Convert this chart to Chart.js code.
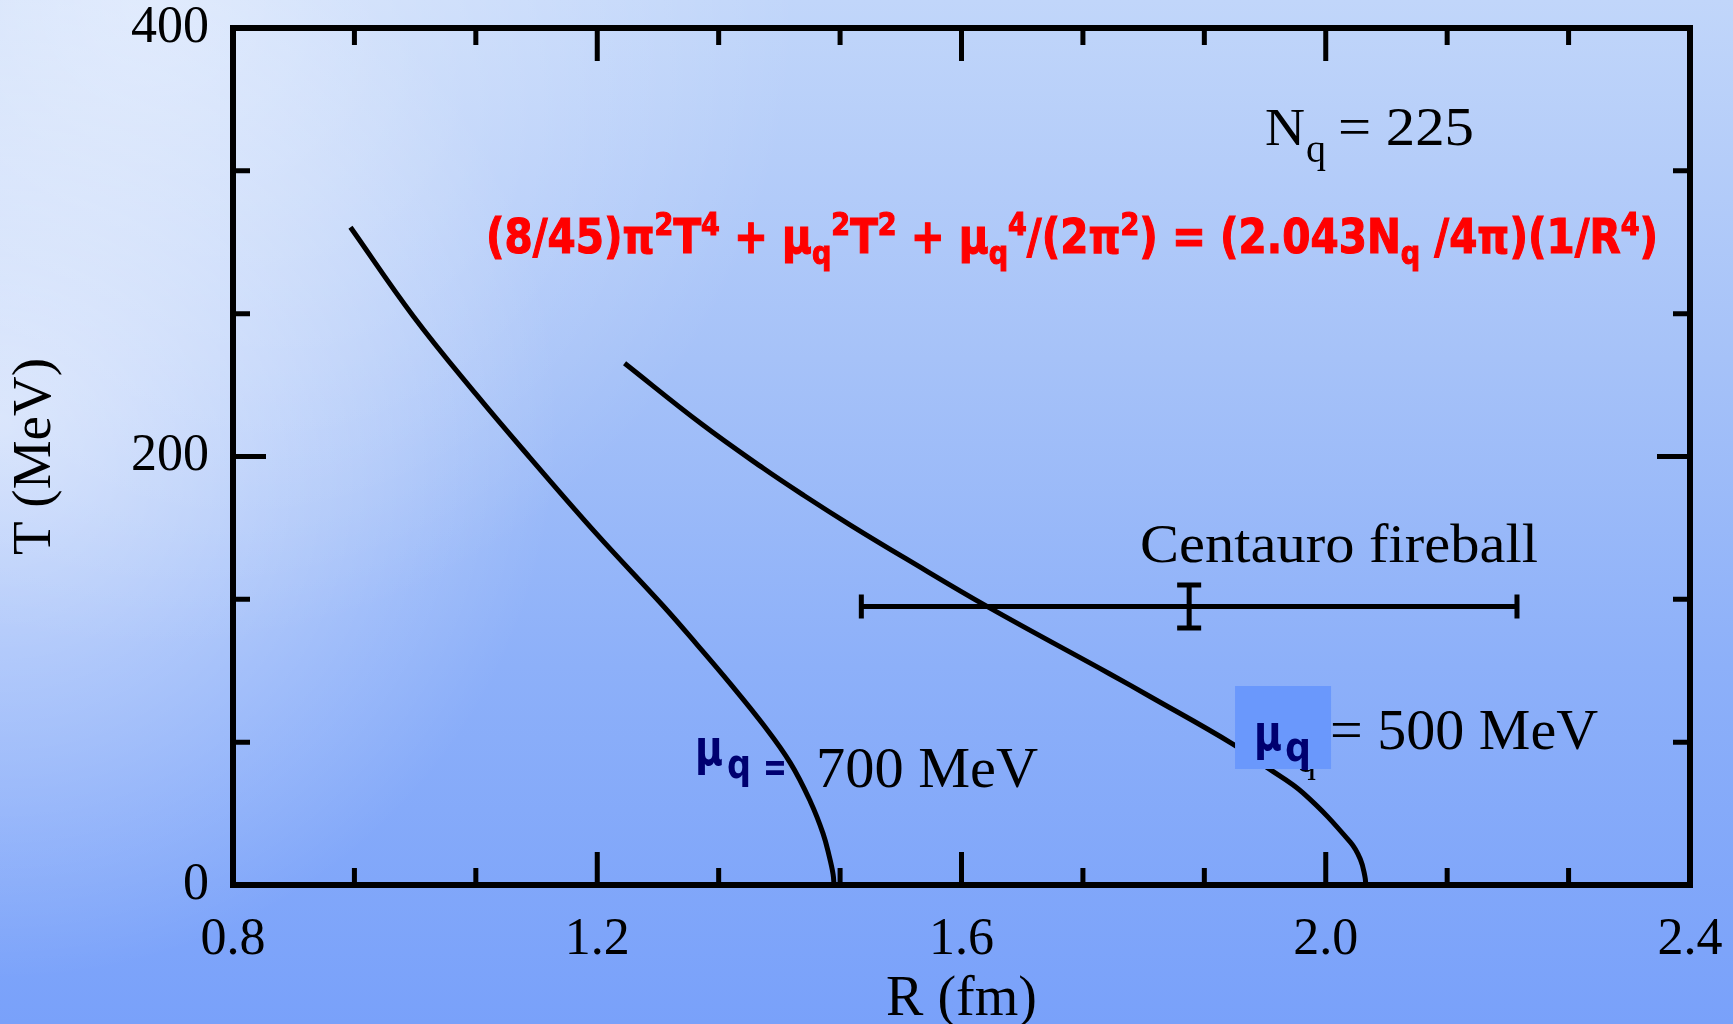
<!DOCTYPE html>
<html>
<head>
<meta charset="utf-8">
<script src="https://cdn.jsdelivr.net/npm/chart.js@4.4.1/dist/chart.umd.min.js"></script>
<style>
  html, body { margin: 0; padding: 0; overflow: hidden; }
  #wrap { width: 1733px; height: 1024px; }
</style>
</head>
<body>
<div id="wrap"><canvas id="c" width="1733" height="1024"></canvas></div>
<script>
// ---- data ----
// mu_q = 700 MeV curve
const mu700R = [0.929, 0.998, 1.068, 1.126, 1.199, 1.273, 1.310, 1.346, 1.382, 1.412, 1.434, 1.448, 1.455, 1.459, 1.460];
const mu700T = [307, 265.5, 228.5, 199.5, 164, 130, 112, 94, 75, 57, 39, 24, 13, 5, 0];
// mu_q = 500 MeV curve
const mu500R = [1.230, 1.315, 1.382, 1.427, 1.478, 1.539, 1.629, 1.763, 1.807, 1.898, 1.935, 1.975, 2.027, 2.038, 2.043, 2.044];
const mu500T = [243.5, 215, 194.6, 181.8, 168, 152.3, 129.8, 98.5, 88, 65.8, 55, 43, 20, 12, 4, 0];
// Centauro fireball estimate with error bars
const fireballR = [1.85];
const fireballT = [130];
const fireballRErr = [0.36];
const fireballTErr = [10];

// axes
const xMajor = [0.8, 1.2, 1.6, 2.0, 2.4];
const xTickLabels = ['0.8', '1.2', '1.6', '2.0', '2.4'];
const yMajor = [0, 200, 400];
const yTickLabels = ['0', '200', '400'];
const minorSplit = 3;

const SERIF = '"Liberation Serif", "Times New Roman", serif';
const SANS = '"DejaVu Sans", Verdana, sans-serif';

function withMinors(majors) {
    const out = [];
    for (let i = 0; i < majors.length; i++) {
        out.push({ value: majors[i], major: true });
        if (i < majors.length - 1) {
            const step = (majors[i + 1] - majors[i]) / minorSplit;
            for (let k = 1; k < minorSplit; k++) out.push({ value: majors[i] + k * step, major: false });
        }
    }
    return out;
}

function labelFor(v, majors, labels) {
    const i = majors.findIndex(m => Math.abs(m - v) < 1e-6);
    return i >= 0 ? labels[i] : '';
}

function toPts(xs, ys) { return xs.map((x, i) => ({ x, y: ys[i] })); }

// text helper: draw text squeezed/stretched to a given width
function fitText(ctx, txt, x, y, w) {
    const m = ctx.measureText(txt).width;
    ctx.save();
    ctx.translate(x, y);
    ctx.scale(w ? w / m : 1, 1);
    ctx.fillText(txt, 0, 0);
    ctx.restore();
}

// background: pale sky/sea gradient
const bgPlugin = {
    id: 'bg',
    beforeDraw(chart) {
        const { ctx, width, height } = chart;
        ctx.save();
        const g = ctx.createLinearGradient(0, 0, 0, height);
        g.addColorStop(0, '#c1d6fa');
        g.addColorStop(0.35, '#a6c2f8');
        g.addColorStop(0.65, '#8db0f9');
        g.addColorStop(1, '#79a1fa');
        ctx.fillStyle = g;
        ctx.fillRect(0, 0, width, height);
        let r = ctx.createRadialGradient(0, 420, 0, 0, 420, 560);
        r.addColorStop(0, 'rgba(255,255,255,0.55)');
        r.addColorStop(1, 'rgba(255,255,255,0)');
        ctx.fillStyle = r;
        ctx.fillRect(0, 0, width, height);
        r = ctx.createRadialGradient(150, 0, 0, 150, 0, 650);
        r.addColorStop(0, 'rgba(255,255,255,0.45)');
        r.addColorStop(1, 'rgba(255,255,255,0)');
        ctx.fillStyle = r;
        ctx.fillRect(0, 0, width, height);
        ctx.restore();
    }
};

// frame with inward ticks on all four sides
const framePlugin = {
    id: 'frame',
    afterDatasetsDraw(chart) {
        const { ctx, chartArea: a, scales: { x, y } } = chart;
        ctx.save();
        ctx.strokeStyle = '#000';
        ctx.lineWidth = 5;
        ctx.lineCap = 'butt';
        x.ticks.forEach(t => {
            const p = x.getPixelForValue(t.value);
            if (p <= a.left + 1 || p >= a.right - 1) return;
            const len = t.major ? 33 : 17;
            ctx.beginPath();
            ctx.moveTo(p, a.bottom); ctx.lineTo(p, a.bottom - len);
            ctx.moveTo(p, a.top); ctx.lineTo(p, a.top + len);
            ctx.stroke();
        });
        y.ticks.forEach(t => {
            const p = y.getPixelForValue(t.value);
            if (p <= a.top + 1 || p >= a.bottom - 1) return;
            const len = t.major ? 33 : 17;
            ctx.beginPath();
            ctx.moveTo(a.left, p); ctx.lineTo(a.left + len, p);
            ctx.moveTo(a.right, p); ctx.lineTo(a.right - len, p);
            ctx.stroke();
        });
        ctx.lineWidth = 6;
        ctx.lineJoin = 'miter';
        ctx.strokeRect(a.left, a.top, a.right - a.left, a.bottom - a.top);
        ctx.restore();
    }
};

// error bars for the fireball point
const errPlugin = {
    id: 'errbars',
    afterDatasetsDraw(chart) {
        const { ctx, scales: { x, y } } = chart;
        ctx.save();
        ctx.strokeStyle = '#000';
        ctx.lineWidth = 5;
        fireballR.forEach((r, i) => {
            const px = x.getPixelForValue(r), py = y.getPixelForValue(fireballT[i]);
            const x0 = x.getPixelForValue(r - fireballRErr[i]), x1 = x.getPixelForValue(r + fireballRErr[i]);
            const y0 = y.getPixelForValue(fireballT[i] - fireballTErr[i]), y1 = y.getPixelForValue(fireballT[i] + fireballTErr[i]);
            ctx.beginPath();
            ctx.moveTo(x0, py); ctx.lineTo(x1, py);
            ctx.moveTo(x0, py - 12); ctx.lineTo(x0, py + 12);
            ctx.moveTo(x1, py - 12); ctx.lineTo(x1, py + 12);
            ctx.moveTo(px, y0); ctx.lineTo(px, y1);
            ctx.moveTo(px - 12, y0); ctx.lineTo(px + 12, y0);
            ctx.moveTo(px - 12, y1); ctx.lineTo(px + 12, y1);
            ctx.stroke();
        });
        ctx.restore();
    }
};

// annotations, anchored in data space
const labelPlugin = {
    id: 'labels',
    afterDatasetsDraw(chart) {
        const { ctx, scales: { x, y } } = chart;
        const at = (r, t) => [x.getPixelForValue(r), y.getPixelForValue(t)];
        ctx.save();
        ctx.textBaseline = 'alphabetic';
        ctx.textAlign = 'left';
        ctx.fillStyle = '#000';

        // N_q = 225
        let [ax, ay] = at(1.9333, 345.4);
        ctx.font = '52px ' + SERIF;
        fitText(ctx, 'N', ax, ay, 40);
        ctx.font = '40px ' + SERIF;
        fitText(ctx, 'q', ax + 41, ay + 17, 0);
        ctx.font = '54px ' + SERIF;
        fitText(ctx, '= 225', ax + 73, ay, 136);

        // red equation
        [ax, ay] = at(1.0778, 295.0);
        const [ex] = at(2.365, 295.0);
        const segs = [
            ['(8/45)π', 'n'], ['2', 'sup'], ['T', 'n'], ['4', 'sup'], [' + μ', 'n'], ['q', 'sub'], ['2', 'sup'],
            ['T', 'n'], ['2', 'sup'], [' + μ', 'n'], ['q', 'sub'], ['4', 'sup'], ['/(2π', 'n'], ['2', 'sup'],
            [') = (2.043N', 'n'], ['q', 'sub'], [' /4π)(1/R', 'n'], ['4', 'sup'], [')', 'n']
        ];
        const fnt = k => k === 'n' ? 'bold 48px ' + SANS : 'bold 32px ' + SANS;
        const dy = k => k === 'sup' ? -18 : k === 'sub' ? 11 : 0;
        let total = 0;
        segs.forEach(([t, k]) => { ctx.font = fnt(k); total += ctx.measureText(t).width; });
        const sx = (ex - ax) / total;
        ctx.fillStyle = '#ff0000';
        ctx.strokeStyle = '#ff0000';
        ctx.lineWidth = 1.2;
        ctx.save();
        ctx.translate(ax, ay);
        ctx.scale(sx, 1);
        let cx = 0;
        segs.forEach(([t, k]) => {
            ctx.font = fnt(k);
            ctx.fillText(t, cx, dy(k));
            ctx.strokeText(t, cx, dy(k));
            cx += ctx.measureText(t).width;
        });
        ctx.restore();

        // Centauro fireball
        ctx.fillStyle = '#000';
        [ax, ay] = at(1.796, 150.9);
        ctx.font = '54px ' + SERIF;
        fitText(ctx, 'Centauro fireball', ax, ay, 398);

        // mu_q = 700 MeV
        [ax, ay] = at(1.3107, 56);
        ctx.fillStyle = '#000070';
        ctx.font = 'bold 50px ' + SANS;
        fitText(ctx, 'μ', ax - 3, ay, 28);
        ctx.font = 'bold 40px ' + SANS;
        fitText(ctx, 'q', ax + 29, ay + 13, 24);
        ctx.font = 'bold 40px ' + SANS;
        fitText(ctx, '=', ax + 65, ay + 16, 24);
        ctx.fillStyle = '#000';
        ctx.font = '56px ' + SERIF;
        fitText(ctx, '700 MeV', ax + 118, ay + 22, 222);

        // mu_q = 500 MeV (Times text partly covered by a blue box)
        [ax, ay] = at(1.9004, 92.88);
        ctx.font = '38px ' + SERIF;
        fitText(ctx, 'q', ax + 62, ay + 86, 0);
        ctx.font = '56px ' + SERIF;
        fitText(ctx, '= 500 MeV', ax + 95, ay + 63, 268);
        ctx.fillStyle = '#6a98fc';
        ctx.fillRect(ax, ay, 96, 83);
        ctx.fillStyle = '#000070';
        ctx.font = 'bold 50px ' + SANS;
        fitText(ctx, 'μ', ax + 19, ay + 64, 28);
        ctx.font = 'bold 40px ' + SANS;
        fitText(ctx, 'q', ax + 50, ay + 75, 26);
        ctx.restore();
    }
};

new Chart(document.getElementById('c'), {
    type: 'scatter',
    data: {
        datasets: [
            { data: toPts(mu700R, mu700T), showLine: true, borderColor: '#000', borderWidth: 5, pointRadius: 0, tension: 0.4 },
            { data: toPts(mu500R, mu500T), showLine: true, borderColor: '#000', borderWidth: 5, pointRadius: 0, tension: 0.4 },
            { data: toPts(fireballR, fireballT), showLine: false, pointRadius: 0 }
        ]
    },
    options: {
        responsive: false,
        animation: false,
        layout: { padding: { top: 28, right: 43, left: 0, bottom: 0 } },
        plugins: { legend: { display: false }, tooltip: { enabled: false } },
        scales: {
            x: {
                type: 'linear', min: 0.8, max: 2.4,
                afterBuildTicks: s => { s.ticks = withMinors(xMajor); },
                afterFit: s => { s.height = 139; s.paddingLeft = 0; s.paddingRight = 0; },
                grid: { display: false, drawTicks: false },
                border: { display: false },
                ticks: {
                    autoSkip: false, maxRotation: 0, padding: 24, color: '#000',
                    font: { family: SERIF, size: 52, lineHeight: 1.2 },
                    callback: v => labelFor(v, xMajor, xTickLabels)
                },
                title: { display: true, text: 'R (fm)', color: '#000', font: { family: SERIF, size: 56, lineHeight: 1 }, padding: { top: 0, bottom: -4 } }
            },
            y: {
                type: 'linear', min: 0, max: 400,
                afterBuildTicks: s => { s.ticks = withMinors(yMajor); },
                afterFit: s => { s.width = 233; s.paddingTop = 0; s.paddingBottom = 0; },
                grid: { display: false, drawTicks: false },
                border: { display: false },
                ticks: {
                    autoSkip: false, padding: 24, color: '#000',
                    font: { family: SERIF, size: 52, lineHeight: 1.2 },
                    callback: v => labelFor(v, yMajor, yTickLabels)
                },
                title: { display: true, text: 'T (MeV)', color: '#000', font: { family: SERIF, size: 55, lineHeight: 1 }, padding: { top: 8, bottom: 0 } }
            }
        }
    },
    plugins: [bgPlugin, errPlugin, framePlugin, labelPlugin]
});
</script>
</body>
</html>
